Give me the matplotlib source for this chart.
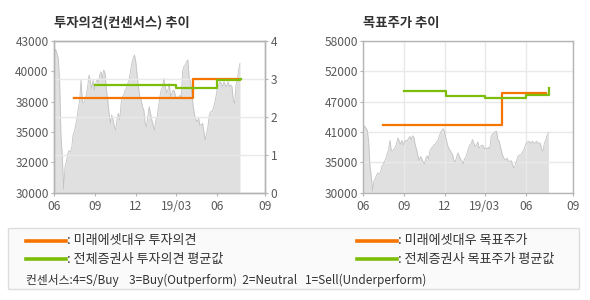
import numpy as np
import pandas as pd
import matplotlib
matplotlib.use("Agg")
import matplotlib.pyplot as plt
from matplotlib.lines import Line2D
from matplotlib.patches import Rectangle

plt.rcParams['font.family'] = ['Noto Sans CJK KR', 'DejaVu Sans']

# ── data ──────────────────────────────────────────────────────────────────
price_start, price_end = "2018-06-01", "2019-07-22"
prices = [
    41800, 42290, 41940, 41510, 39510, 34800, 33090, 30290, 32230, 32600,
    33300, 33600, 33500, 33800, 34940, 35230, 35800, 36370, 37230, 37940,
    39660, 37800, 37700, 38000, 38400, 39100, 40090, 39510, 38940, 39660,
    38800, 39370, 39660, 39510, 40090, 40370, 39800, 40510, 40230, 38800,
    37940, 36800, 35940, 36660, 36230, 35660, 35370, 36370, 36800, 36230,
    37660, 38230, 38370, 38800, 38940, 39370, 39660, 40370, 41090, 41510,
    41800, 41230, 40090, 39090, 38230, 37940, 37370, 37090, 35940, 35660,
    36510, 37370, 36800, 36230, 35800, 35370, 36230, 36510, 37370, 38230,
    38800, 39090, 39800, 39090, 38510, 38800, 39370, 38230, 38510, 38800,
    38660, 38090, 38230, 38090, 38370, 38090, 40370, 40800, 40940, 41230,
    41370, 39800, 39510, 38510, 37370, 36660, 36230, 36090, 36370, 35800,
    35800, 35940, 35230, 34510, 35090, 35660, 36660, 36940, 36940, 37230,
    37660, 38230, 38940, 39230, 39510, 39370, 39090, 39510, 39230, 39090,
    39510, 39090, 39230, 39090, 37940, 37660, 39230, 39660, 40510, 41090,
]

# investment opinion (right axis, 0-4)
mirae_op_dates = ["2018-07-15", "2019-04-08", "2019-07-18"]
mirae_op_vals = [2.5, 3.0, 3.0]
avg_op_dates = ["2018-09-01", "2019-03-01", "2019-06-01", "2019-07-21", "2019-07-24"]
avg_op_vals = [2.85, 2.77, 2.96, 3.0, 3.0]

# target price
mirae_tp_dates = ["2018-07-15", "2019-04-08", "2019-07-16"]
mirae_tp_vals = [42500, 48400, 48400]
avg_tp_dates = ["2018-09-01", "2018-12-04", "2019-03-01", "2019-06-01", "2019-07-24", "2019-07-24"]
avg_tp_vals = [48800, 47900, 47500, 48100, 49400, 49400]

x_tick_dates = ["2018-06-01", "2018-09-01", "2018-12-01", "2019-03-01", "2019-06-01", "2019-09-16"]
x_tick_labels = ["06", "09", "12", "19/03", "06", "09"]
op_price_labels = ["30000", "32000", "35000", "38000", "40000", "43000"]
tp_price_labels = ["30000", "35000", "41000", "47000", "52000", "58000"]
op_ticks = [0, 1, 2, 3, 4]

legend_items = [
    (": 미래에셋대우 투자의견", ": 미래에셋대우 목표주가", "#f57500"),
    (": 전체증권사 투자의견 평균값", ": 전체증권사 목표주가 평균값", "#7cbd0a"),
]
footer = "컨센서스:4=S/Buy    3=Buy(Outperform)  2=Neutral   1=Sell(Underperform)"

# ── styling ───────────────────────────────────────────────────────────────
ORANGE = "#f57500"
GREEN = "#7cbd0a"
FILL = "#e0e0e0"
PLINE = "#c2c2c2"
SPINE = "#b4b4b4"
GRID = "#e9e9e9"
TICK = "#5a5a5a"

price_dates = pd.date_range(price_start, price_end, periods=len(prices))
xt = pd.to_datetime(x_tick_dates)
W, H = 590, 300

fig = plt.figure(figsize=(W / 100, H / 100), dpi=100, facecolor="white")


def frame(ax):
    for sp in ax.spines.values():
        sp.set_edgecolor(SPINE)
        sp.set_linewidth(1.0)
    ax.tick_params(colors=SPINE, labelcolor=TICK, labelsize=8.6, length=2.5, width=0.8, pad=1.5)
    ax.set_xlim(xt[0], xt[-1])
    ax.set_xticks(xt)
    ax.set_xticklabels(x_tick_labels)
    ax.tick_params(axis="x", pad=2.5)


# ── left: opinion chart ───────────────────────────────────────────────────
ax1 = fig.add_axes([54.3 / W, 1 - 192.7 / H, 210.7 / W, 151.7 / H])
ax1.fill_between(price_dates, prices, 30000, color=FILL, lw=0)
ax1.plot(price_dates, prices, color=PLINE, lw=0.6)
ax1.set_ylim(30000, 43000)
ax1.set_yticks(np.linspace(30000, 43000, len(op_price_labels)))
ax1.set_yticklabels(op_price_labels)
frame(ax1)

ax1r = ax1.twinx()
ax1r.set_ylim(0, 4)
ax1r.set_yticks(op_ticks)
ax1r.grid(True, color=GRID, lw=1.0)
ax1r.step(pd.to_datetime(mirae_op_dates), mirae_op_vals, where="post", color=ORANGE, lw=1.6, zorder=3)
ax1r.step(pd.to_datetime(avg_op_dates), avg_op_vals, where="post", color=GREEN, lw=1.6, zorder=3)
frame(ax1r)
ax1.set_title("투자의견(컨센서스) 추이", loc="left", fontsize=9.6, fontweight="bold",
              color="#333333", pad=10)

# ── right: target price chart ─────────────────────────────────────────────
ax2 = fig.add_axes([363.3 / W, 1 - 192.7 / H, 210 / W, 151.7 / H])
ax2.fill_between(price_dates, prices, 30000, color=FILL, lw=0)
ax2.plot(price_dates, prices, color=PLINE, lw=0.6)
ax2.step(pd.to_datetime(mirae_tp_dates), mirae_tp_vals, where="post", color=ORANGE, lw=1.6, zorder=3)
ax2.step(pd.to_datetime(avg_tp_dates), avg_tp_vals, where="post", color=GREEN, lw=1.6, zorder=3)
ax2.set_ylim(30000, 58000)
ax2.set_yticks(np.linspace(30000, 58000, len(tp_price_labels)))
ax2.set_yticklabels(tp_price_labels)
ax2.grid(True, color=GRID, lw=1.0)
frame(ax2)
ax2.set_title("목표주가 추이", loc="left", fontsize=9.6, fontweight="bold",
              color="#333333", pad=10)

# ── legend box ────────────────────────────────────────────────────────────
fig.add_artist(Rectangle((8.3 / W, 1 - 289 / H), (579.3 - 8.3) / W, (289 - 228.3) / H,
                         transform=fig.transFigure, facecolor="#fafafa",
                         edgecolor="#dddddd", lw=1.0))
row_y = [240.7, 259.3]
for (lab_l, lab_r, col), yy in zip(legend_items, row_y):
    for x0, x1, tx, lab in [(26, 65.7, 67, lab_l), (357.3, 396.7, 398, lab_r)]:
        fig.add_artist(Line2D([x0 / W, x1 / W], [1 - yy / H] * 2, color=col, lw=2.6,
                              transform=fig.transFigure))
        fig.text(tx / W, 1 - yy / H, lab, fontsize=9.4, color="#333333", va="center")
fig.text(26 / W, 1 - 280.5 / H, footer, fontsize=8.5, color="#333333", va="center")

fig.savefig("out.png", dpi=100, facecolor="white")
